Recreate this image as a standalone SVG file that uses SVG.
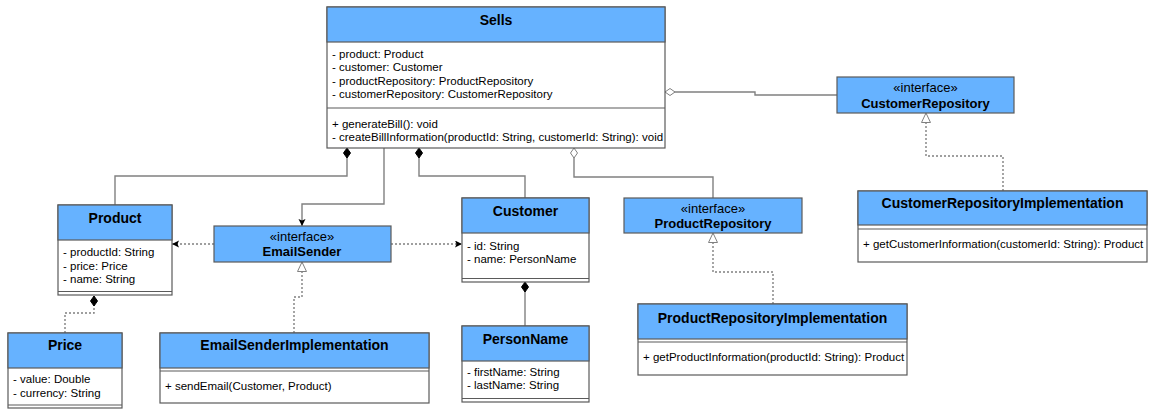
<svg xmlns="http://www.w3.org/2000/svg" width="1176" height="419" viewBox="0 0 1176 419">
<style>
.hdr{fill:#66B2FF;stroke:#5a5a5a;stroke-width:1.2}
.bd{fill:#fff;stroke:#5a5a5a;stroke-width:1.2}
.sep{stroke:#5a5a5a;stroke-width:1.2;fill:none}
.t{font-family:"Liberation Sans",Arial,sans-serif;font-size:14px;font-weight:bold;fill:#000;text-anchor:middle}
.st{font-family:"Liberation Sans",Arial,sans-serif;font-size:13px;fill:#000;text-anchor:middle}
.in{font-family:"Liberation Sans",Arial,sans-serif;font-size:13px;font-weight:bold;fill:#000;text-anchor:middle}
.m{font-family:"Liberation Sans",Arial,sans-serif;font-size:11.5px;fill:#000}
.c{fill:none;stroke:#808080;stroke-width:1.4}
.d{fill:none;stroke:#808080;stroke-width:1.4;stroke-dasharray:2 2}
</style>
<defs>
<marker id="fd" markerUnits="userSpaceOnUse" markerWidth="12" markerHeight="9" refX="0" refY="4" orient="auto"><path d="M0,4 L5,0.5 L10,4 L5,7.5 z" fill="#000" stroke="#000" stroke-width="1"/></marker>
<marker id="hd" markerUnits="userSpaceOnUse" markerWidth="12" markerHeight="9" refX="0" refY="4" orient="auto"><path d="M0,4 L5,0.5 L10,4 L5,7.5 z" fill="#fff" stroke="#808080" stroke-width="1"/></marker>
<marker id="tri" markerUnits="userSpaceOnUse" markerWidth="12" markerHeight="11" refX="10" refY="5" orient="auto"><path d="M0.5,0.5 L10,5 L0.5,9.5 z" fill="#fff" stroke="#808080" stroke-width="1"/></marker>
<marker id="arr" markerUnits="userSpaceOnUse" markerWidth="9" markerHeight="9" refX="7" refY="3.5" orient="auto"><path d="M0,0 L7,3.5 L0,7 L1.5,3.5 z" fill="#000"/></marker>
</defs>

<g id="connectors">
<path class="c" d="M665,92 H755 V95 H837" marker-start="url(#hd)"/>
<path class="c" d="M347,148 V176 H115 V205" marker-start="url(#fd)"/>
<path class="c" d="M384,148 V204 H302 V226" marker-end="url(#arr)"/>
<path class="c" d="M419,148 V176 H525 V198" marker-start="url(#fd)"/>
<path class="c" d="M574,148 V177 H713 V198" marker-start="url(#hd)"/>
<path class="d" d="M1003,191 V156 H926 V113" marker-end="url(#tri)"/>
<path class="d" d="M773,304 V272 H713 V233" marker-end="url(#tri)"/>
<path class="d" d="M294,333 V297 H302 V262" marker-end="url(#tri)"/>
<path class="d" d="M214,244 H172" marker-end="url(#arr)"/>
<path class="d" d="M391,244 H462" marker-end="url(#arr)"/>
<path class="d" d="M94,296 V313 H65 V333" marker-start="url(#fd)"/>
<path class="c" d="M525,282 V326" marker-start="url(#fd)"/>
</g>

<g id="Sells">
<rect class="bd" x="327" y="7" width="338" height="141"/>
<rect class="hdr" x="327" y="7" width="338" height="35"/>
<line class="sep" x1="327" y1="108" x2="665" y2="108"/>
<text class="t" x="496" y="25">Sells</text>
<text class="m" x="332" y="57.5">- product: Product</text>
<text class="m" x="332" y="71">- customer: Customer</text>
<text class="m" x="332" y="84.5">- productRepository: ProductRepository</text>
<text class="m" x="332" y="97.5">- customerRepository: CustomerRepository</text>
<text class="m" x="332" y="127.5">+ generateBill(): void</text>
<text class="m" x="332" y="140.5">- createBillInformation(productId: String, customerId: String): void</text>
</g>

<g id="CustomerRepository">
<rect class="hdr" x="837" y="77" width="177" height="36"/>
<text class="st" x="925.5" y="92">«interface»</text>
<text class="in" x="925.5" y="108">CustomerRepository</text>
</g>

<g id="CustomerRepositoryImplementation">
<rect class="bd" x="858" y="191" width="289" height="71"/>
<rect class="hdr" x="858" y="191" width="289" height="34"/>
<line class="sep" x1="858" y1="229" x2="1147" y2="229"/>
<text class="t" x="1002.5" y="208">CustomerRepositoryImplementation</text>
<text class="m" x="863" y="247.5">+ getCustomerInformation(customerId: String): Product</text>
</g>

<g id="ProductRepository">
<rect class="hdr" x="624" y="198" width="178" height="35"/>
<text class="st" x="713" y="213">«interface»</text>
<text class="in" x="713" y="227.5">ProductRepository</text>
</g>

<g id="ProductRepositoryImplementation">
<rect class="bd" x="638" y="304" width="269" height="71"/>
<rect class="hdr" x="638" y="304" width="269" height="35"/>
<line class="sep" x1="638" y1="342" x2="907" y2="342"/>
<text class="t" x="772.5" y="323">ProductRepositoryImplementation</text>
<text class="m" x="643" y="361">+ getProductInformation(productId: String): Product</text>
</g>

<g id="Product">
<rect class="bd" x="58" y="205" width="114" height="90"/>
<rect class="hdr" x="58" y="205" width="114" height="35"/>
<line class="sep" x1="58" y1="291.5" x2="172" y2="291.5"/>
<text class="t" x="115" y="223">Product</text>
<text class="m" x="63" y="256">- productId: String</text>
<text class="m" x="63" y="269.5">- price: Price</text>
<text class="m" x="63" y="282.5">- name: String</text>
</g>

<g id="EmailSender">
<rect class="hdr" x="214" y="226" width="177" height="36"/>
<text class="st" x="302" y="241">«interface»</text>
<text class="in" x="302" y="255.5">EmailSender</text>
</g>

<g id="Customer">
<rect class="bd" x="462" y="198" width="127" height="84"/>
<rect class="hdr" x="462" y="198" width="127" height="35"/>
<line class="sep" x1="462" y1="278.5" x2="589" y2="278.5"/>
<text class="t" x="525.5" y="216">Customer</text>
<text class="m" x="467" y="249.5">- id: String</text>
<text class="m" x="467" y="262.5">- name: PersonName</text>
</g>

<g id="PersonName">
<rect class="bd" x="462" y="326" width="127" height="76"/>
<rect class="hdr" x="462" y="326" width="127" height="35"/>
<line class="sep" x1="462" y1="398.5" x2="589" y2="398.5"/>
<text class="t" x="525.5" y="343.5">PersonName</text>
<text class="m" x="467" y="376">- firstName: String</text>
<text class="m" x="467" y="389">- lastName: String</text>
</g>

<g id="Price">
<rect class="bd" x="8" y="333" width="114" height="75"/>
<rect class="hdr" x="8" y="333" width="114" height="35"/>
<line class="sep" x1="8" y1="405" x2="122" y2="405"/>
<text class="t" x="65" y="350">Price</text>
<text class="m" x="13" y="383">- value: Double</text>
<text class="m" x="13" y="396.5">- currency: String</text>
</g>

<g id="EmailSenderImplementation">
<rect class="bd" x="160" y="333" width="269" height="70"/>
<rect class="hdr" x="160" y="333" width="269" height="35"/>
<line class="sep" x1="160" y1="371" x2="429" y2="371"/>
<text class="t" x="294.5" y="350">EmailSenderImplementation</text>
<text class="m" x="165" y="390">+ sendEmail(Customer, Product)</text>
</g>
</svg>
